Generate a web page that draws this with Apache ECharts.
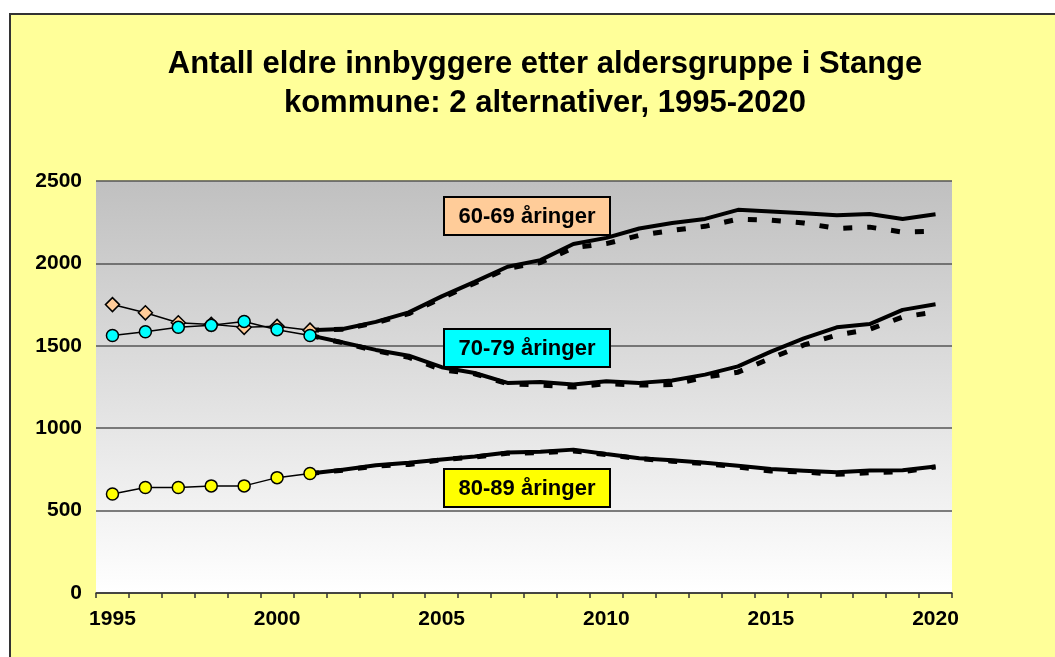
<!DOCTYPE html>
<html>
<head>
<meta charset="utf-8">
<script src="https://cdn.jsdelivr.net/npm/echarts@6/dist/echarts.min.js"></script>
<style>
  html, body { margin: 0; padding: 0; background: #fff; }
  #frame { position: absolute; left: 9px; top: 13px; width: 1100px; height: 700px;
           background: #FFFF99; border: 2px solid #333; }
  #chart { position: absolute; left: 0; top: 0; width: 1055px; height: 657px; }
</style>
</head>
<body>
<div id="frame"></div>
<div id="chart"></div>
<script>
var years = [];
for (var y = 1995; y <= 2020; y++) years.push(String(y));

// registrerte tall 1995-2001
var hist6069 = [1750, 1700, 1640, 1630, 1612, 1618, 1595];
var hist7079 = [1563, 1585, 1612, 1624, 1648, 1598, 1563];
var hist8089 = [601, 640, 640, 650, 650, 700, 725];

// framskrivning 2001-2020, alternativ 1 (heltrukket) og 2 (stiplet)
var alt1_6069 = [1595, 1602, 1645, 1703, 1800, 1888, 1980, 2020, 2118, 2155, 2212, 2245, 2270, 2325, 2315, 2305, 2292, 2300, 2270, 2298];
var alt2_6069 = [1595, 1600, 1640, 1695, 1790, 1880, 1970, 2005, 2095, 2120, 2170, 2200, 2225, 2268, 2262, 2245, 2212, 2220, 2190, 2195];
var alt1_7079 = [1563, 1520, 1475, 1440, 1370, 1335, 1275, 1280, 1265, 1285, 1275, 1290, 1325, 1375, 1465, 1545, 1612, 1632, 1718, 1752];
var alt2_7079 = [1563, 1518, 1470, 1430, 1355, 1330, 1270, 1262, 1250, 1270, 1262, 1265, 1310, 1340, 1425, 1505, 1565, 1600, 1675, 1705];
var alt1_8089 = [725, 748, 775, 790, 810, 828, 852, 857, 870, 843, 818, 805, 790, 772, 752, 742, 732, 743, 745, 767];
var alt2_8089 = [725, 745, 770, 780, 808, 825, 848, 852, 862, 840, 815, 800, 785, 765, 740, 735, 720, 730, 735, 765];

function padHist(arr) {
  var out = arr.slice();
  while (out.length < years.length) out.push(null);
  return out;
}
function padProj(arr) {
  var out = [];
  while (out.length + arr.length < years.length) out.push(null);
  return out.concat(arr);
}

var chart = echarts.init(document.getElementById('chart'));

function histSeries(name, data, symbol, size, color) {
  return {
    name: name, type: 'line', data: padHist(data), z: 5,
    symbol: symbol, symbolSize: size, showSymbol: true,
    lineStyle: { color: '#000', width: 1.5 },
    itemStyle: { color: color, borderColor: '#000', borderWidth: 1.5 }
  };
}
function projSeries(name, data, dashed) {
  return {
    name: name, type: 'line', data: padProj(data), symbol: 'none',
    z: dashed ? 2 : 3,
    lineStyle: { color: '#000', width: dashed ? 5 : 4, type: dashed ? [9, 15] : 'solid' }
  };
}

function labelBox(text, x, y, fill) {
  return {
    type: 'group', left: x, top: y, z: 100,
    children: [
      { type: 'rect', z: 100, shape: { x: 0, y: 0, width: 166, height: 38 },
        style: { fill: fill, stroke: '#000', lineWidth: 2 } },
      { type: 'text', z: 101, x: 83, y: 20,
        style: { text: text, fill: '#000', align: 'center', verticalAlign: 'middle',
                 font: 'bold 22px "Liberation Sans", Arial, sans-serif' } }
    ]
  };
}

var font = '"Liberation Sans", Arial, sans-serif';

var option = {
  backgroundColor: 'transparent',
  animation: false,
  title: {
    text: 'Antall eldre innbyggere etter aldersgruppe i Stange\nkommune: 2 alternativer, 1995-2020',
    left: 540, textAlign: 'center', top: 40,
    textStyle: { fontFamily: font, fontWeight: 'bold', fontSize: 31, lineHeight: 39, color: '#000' }
  },
  grid: {
    left: 96, right: 103, top: 181, bottom: 64, show: true, borderWidth: 0,
    backgroundColor: new echarts.graphic.LinearGradient(0, 0, 0, 1, [
      { offset: 0, color: '#C0C0C0' }, { offset: 1, color: '#FFFFFF' }
    ])
  },
  xAxis: {
    type: 'category', data: years, boundaryGap: true,
    axisLine: { lineStyle: { color: '#333', width: 1.5 } },
    axisTick: { show: true, interval: 0, length: 5, lineStyle: { color: '#333', width: 1.5 } },
    axisLabel: {
      interval: function (i) { return i % 5 === 0; },
      margin: 16, color: '#000', fontWeight: 'bold', fontSize: 21, fontFamily: font
    }
  },
  yAxis: {
    type: 'value', min: 0, max: 2500, interval: 500,
    axisLine: { show: false }, axisTick: { show: false },
    splitLine: { lineStyle: { color: '#555', width: 1.5 } },
    axisLabel: { margin: 14, color: '#000', fontWeight: 'bold', fontSize: 21, fontFamily: font,
                 formatter: function (v) { return String(v); } }
  },
  graphic: [
    labelBox('60-69 åringer', 443, 196, '#FFCC99'),
    labelBox('70-79 åringer', 443, 328, '#00FFFF'),
    labelBox('80-89 åringer', 443, 468, '#FFFF00')
  ],
  series: [
    projSeries('60-69 alt 2', alt2_6069, true),
    projSeries('60-69 alt 1', alt1_6069, false),
    projSeries('70-79 alt 2', alt2_7079, true),
    projSeries('70-79 alt 1', alt1_7079, false),
    projSeries('80-89 alt 2', alt2_8089, true),
    projSeries('80-89 alt 1', alt1_8089, false),
    histSeries('60-69', hist6069, 'diamond', 14, '#FFCC99'),
    histSeries('70-79', hist7079, 'circle', 12, '#00FFFF'),
    histSeries('80-89', hist8089, 'circle', 12, '#FFFF00')
  ]
};

chart.setOption(option);
</script>
</body>
</html>
